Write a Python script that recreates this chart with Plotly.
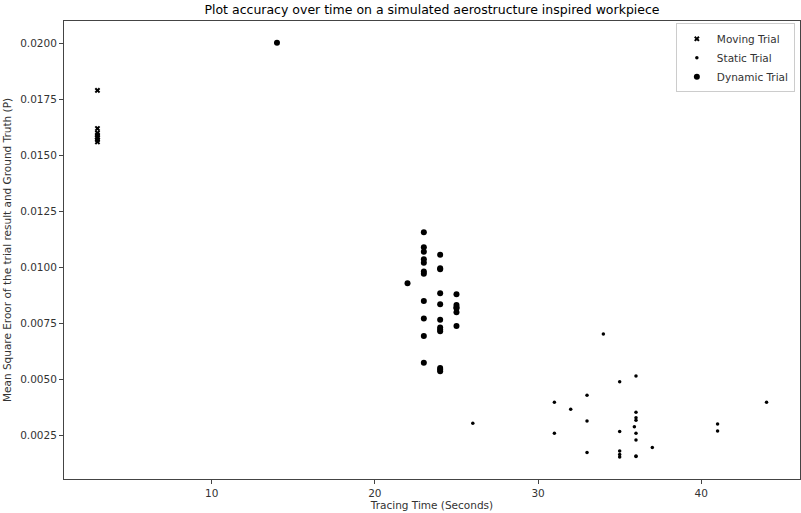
import plotly.graph_objects as go

# Moving trial: tracing time (s) and mean square error
moving_x = [3, 3, 3, 3, 3, 3, 3, 3]
moving_y = [0.0179, 0.0162, 0.0160, 0.0159, 0.0158, 0.0158, 0.0157, 0.0156]

# Static trial
static_x = [34, 36, 35, 33, 31, 32, 36, 36, 36, 33, 35.9, 35, 36, 31, 36, 37,
            33, 35, 35, 35, 36, 36, 41, 41, 44, 26]
static_y = [0.00702, 0.00515, 0.00489, 0.00429, 0.00398, 0.00366, 0.00353,
            0.00328, 0.00317, 0.00314, 0.00288, 0.00267, 0.00259, 0.00259,
            0.00229, 0.00196, 0.00173, 0.00180, 0.00164, 0.00153, 0.00158,
            0.00155, 0.00301, 0.00269, 0.00398, 0.00304]

# Dynamic trial
dynamic_x = [14, 23, 23, 23, 23, 23, 23, 23, 24, 24, 24, 22, 24, 25, 23, 24,
             25, 25, 25, 25, 23, 24, 24, 24, 24, 25, 23, 23, 24, 24, 24]
dynamic_y = [0.02003, 0.01157, 0.01090, 0.01070, 0.01036, 0.01021, 0.00981,
             0.00971, 0.01056, 0.00996, 0.00991, 0.00929, 0.00884, 0.00880,
             0.00850, 0.00835, 0.00832, 0.00822, 0.00817, 0.00799, 0.00772,
             0.00766, 0.00732, 0.00723, 0.00715, 0.00738, 0.00693, 0.00574,
             0.00551, 0.00544, 0.00536]

font = "DejaVu Sans, Liberation Sans, sans-serif"
ink = "#333333"

fig = go.Figure()
fig.add_trace(go.Scatter(
    x=moving_x, y=moving_y, mode="markers", name="Moving Trial",
    marker=dict(symbol="x", size=5, color="black", line=dict(width=0)),
))
fig.add_trace(go.Scatter(
    x=static_x, y=static_y, mode="markers", name="Static Trial",
    marker=dict(symbol="circle", size=3.5, color="black", line=dict(width=0)),
))
fig.add_trace(go.Scatter(
    x=dynamic_x, y=dynamic_y, mode="markers", name="Dynamic Trial",
    marker=dict(symbol="circle", size=6, color="black", line=dict(width=0)),
))

axis_common = dict(
    showgrid=False, zeroline=False, showline=True, mirror=True,
    linecolor="#444444", linewidth=1, ticks="outside", ticklen=4,
    tickcolor="#444444", tickwidth=1,
    tickfont=dict(family=font, size=10.5, color=ink),
)

fig.update_layout(
    width=801, height=513,
    margin=dict(l=64, r=1, t=21, b=34),
    plot_bgcolor="white", paper_bgcolor="white",
    font=dict(family=font, size=10.5, color=ink),
    title=dict(
        text="Plot accuracy over time on a simulated aerostructure inspired workpiece",
        x=0.5, xref="paper", y=1 - 10 / 513, yref="container",
        xanchor="center", yanchor="middle",
        font=dict(family=font, size=12.5, color="black"),
    ),
    xaxis=dict(
        range=[0.95, 46.05], tick0=0, dtick=10,
        title=dict(text="Tracing Time (Seconds)", standoff=4,
                   font=dict(family=font, size=10.5, color=ink)),
        **axis_common,
    ),
    yaxis=dict(
        range=[0.00055, 0.0210], tick0=0, dtick=0.0025, tickformat=".4f",
        title=dict(text="Mean Square Eroor of the trial result and Ground Truth (P)",
                   standoff=6, font=dict(family=font, size=10.5, color=ink)),
        **axis_common,
    ),
    legend=dict(
        x=0.993, y=0.995, xanchor="right", yanchor="top",
        bgcolor="white", bordercolor="#cccccc", borderwidth=1,
        font=dict(family=font, size=10.5, color=ink),
    ),
    showlegend=True,
)

fig.write_html("out.html")
